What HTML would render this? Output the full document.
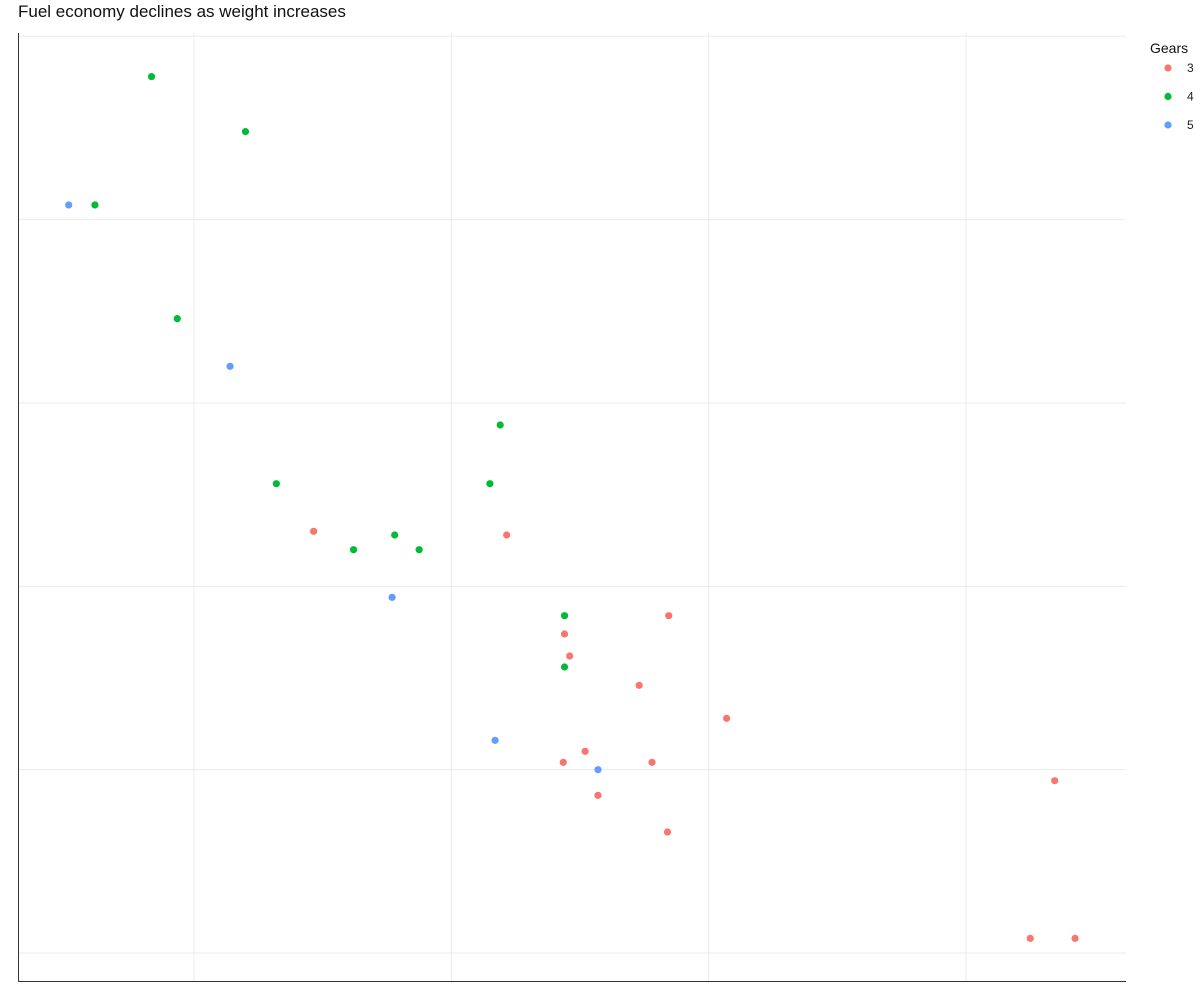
<!DOCTYPE html>
<html><head><meta charset="utf-8"><style>
html,body{margin:0;padding:0;background:#fff;width:1200px;height:1000px;overflow:hidden;font-family:"Liberation Sans",sans-serif;}
</style></head><body>
<svg id="chart" width="1200" height="1000">
<text x="18" y="17" font-size="17" fill="#111">Fuel economy declines as weight increases</text>
<g id="grid"></g><g id="pts"></g>
<line x1="18.5" y1="33" x2="18.5" y2="982" stroke="#333"/>
<line x1="18" y1="981.5" x2="1126" y2="981.5" stroke="#333"/>
<g id="legend">
<text x="1150" y="53" font-size="14" fill="#111">Gears</text>
</g>
</svg>
<script>
const weights=[2.620,2.875,2.320,3.215,3.440,3.460,3.570,3.190,3.150,3.440,3.440,4.070,3.730,3.780,5.250,5.424,5.345,2.200,1.615,1.835,2.465,3.520,3.435,3.840,3.845,1.935,2.140,1.513,3.170,2.770,3.570,2.780];
const mpgs=[21.0,21.0,22.8,21.4,18.7,18.1,14.3,24.4,22.8,19.2,17.8,16.4,17.3,15.2,10.4,10.4,14.7,32.4,30.4,33.9,21.5,15.5,15.2,13.3,19.2,27.3,26.0,30.4,15.8,19.7,15.0,21.4];
const gears=[4,4,4,3,3,3,3,4,4,4,4,3,3,3,3,3,3,4,4,4,3,3,3,3,3,4,5,5,5,5,5,4];
const gearLevels=[3,4,5];
const xTicks=[2,3,4,5];
const yTicks=[10,15,20,25,30,35];
const colors={3:"#F8766D",4:"#00BA38",5:"#619CFF"};
const NS="http://www.w3.org/2000/svg";
const L=18,R=1126,T=33,B=982,xmin=1.316,xmax=5.622,ymin=9.21,ymax=35.09;
const sx=v=>L+(v-xmin)/(xmax-xmin)*(R-L);
const sy=v=>B-(v-ymin)/(ymax-ymin)*(B-T);
const g=document.getElementById('grid');
xTicks.forEach(t=>{const l=document.createElementNS(NS,'line');
l.setAttribute('x1',sx(t));l.setAttribute('x2',sx(t));l.setAttribute('y1',T);l.setAttribute('y2',B);l.setAttribute('stroke','#ebebeb');


g.appendChild(l);});
yTicks.forEach(t=>{const l=document.createElementNS(NS,'line');
l.setAttribute('y1',sy(t));l.setAttribute('y2',sy(t));l.setAttribute('x1',L);l.setAttribute('x2',R);l.setAttribute('stroke','#ebebeb');


g.appendChild(l);});
const p=document.getElementById('pts');
weights.forEach((w,i)=>{const c=document.createElementNS(NS,'circle');
c.setAttribute('cx',sx(w));c.setAttribute('cy',sy(mpgs[i]));c.setAttribute('r',3.6);c.setAttribute('fill',colors[gears[i]]);


p.appendChild(c);});
const lg=document.getElementById('legend');
gearLevels.forEach((k,i)=>{const y=68+i*28.5;
const c=document.createElementNS(NS,'circle');c.setAttribute('cx',1168);c.setAttribute('cy',y);c.setAttribute('r',3.6);c.setAttribute('fill',colors[k]);


lg.appendChild(c);
const t=document.createElementNS(NS,'text');t.setAttribute('x',1187);t.setAttribute('y',y+4);t.setAttribute('font-size','12');t.setAttribute('fill','#222');t.textContent=k;


lg.appendChild(t);});
</script>
</body></html>
